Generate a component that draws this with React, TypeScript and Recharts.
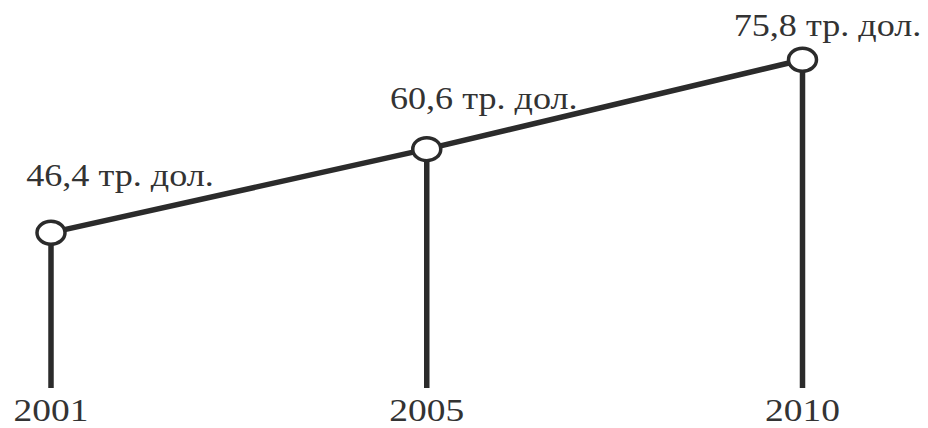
import React from 'react';
import { LineChart, Line, XAxis, YAxis, ReferenceLine, LabelList } from 'recharts';

const years = ['2001', '2005', '2010'];
const amounts = [46.4, 60.6, 75.8];
const unit = 'тр. дол.';

const data = years.map((year, i) => ({ year, value: amounts[i] }));

const INK = '#2b2b2b';
const FONT = '"Liberation Serif", "Times New Roman", serif';

// nudges for the value captions (layout only)
const captionNudge = [
  { dx: 69, dy: -47 },
  { dx: 57, dy: -40 },
  { dx: 25, dy: -24 },
];

const fmt = (v: number) => `${v.toFixed(1).replace('.', ',')} ${unit}`;

const Dot = (props: any) => {
  const { cx, cy, index } = props;
  if (cx == null || cy == null) return null;
  return <ellipse key={index} cx={cx} cy={cy} rx={14} ry={11.5} fill="#fff" stroke={INK} strokeWidth={3.5} />;
};

const YearTick = (props: any) => {
  const { x, y, payload } = props;
  return (
    <text
      transform={`translate(${x},${y + 31}) scale(1.17,1)`}
      textAnchor="middle"
      fontFamily={FONT}
      fontSize={32}
      fill="#333"
    >
      {payload.value}
    </text>
  );
};

const Caption = (props: any) => {
  const { x, y, value, index } = props;
  const n = captionNudge[index] || { dx: 0, dy: -20 };
  return (
    <text
      transform={`translate(${x + n.dx},${y + n.dy}) scale(1.13,1)`}
      textAnchor="middle"
      fontFamily={FONT}
      fontSize={32}
      fill="#333"
    >
      {fmt(value)}
    </text>
  );
};

export default function App() {
  return (
    <div style={{ position: 'absolute', left: 0, top: 0, width: 928, height: 428, background: '#fff' }}>
      <LineChart width={928} height={428} data={data} margin={{ top: 35, right: 125.5, bottom: 0, left: 51 }}>
        <XAxis
          dataKey="year"
          height={40}
          axisLine={false}
          tickLine={false}
          tickSize={0}
          tick={<YearTick />}
          interval={0}
        />
        <YAxis hide domain={[20, 80]} />
        {data.map((d) => (
          <ReferenceLine
            key={d.year}
            segment={[{ x: d.year, y: 20 }, { x: d.year, y: d.value }]}
            stroke={INK}
            strokeWidth={5.5}
            ifOverflow="visible"
          />
        ))}
        <Line
          dataKey="value"
          type="linear"
          stroke={INK}
          strokeWidth={5.5}
          dot={<Dot />}
          activeDot={false}
          isAnimationActive={false}
        >
          <LabelList dataKey="value" content={<Caption />} />
        </Line>
      </LineChart>
    </div>
  );
}
